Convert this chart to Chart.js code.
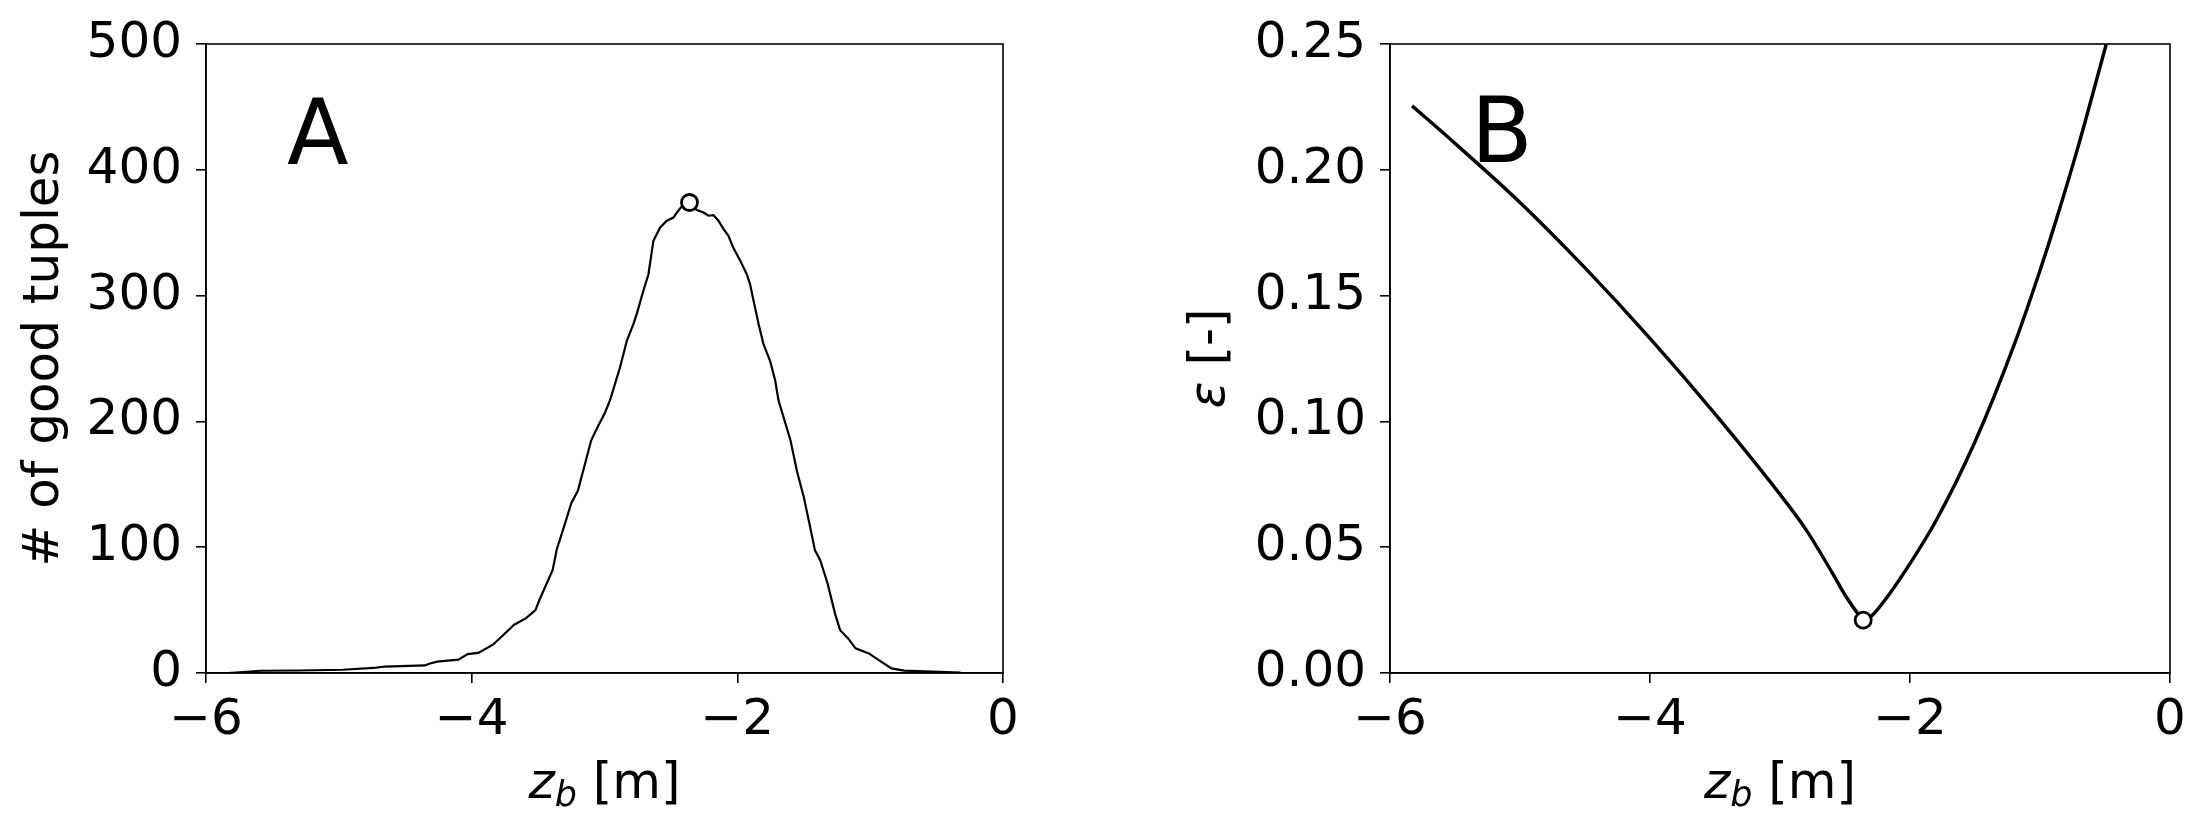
<!DOCTYPE html>
<html><head><meta charset="utf-8">
<script src="https://cdn.jsdelivr.net/npm/chart.js@4.4.0/dist/chart.umd.min.js"></script>
<style>
html,body{margin:0;padding:0;background:#fff;}
#wrap{position:relative;width:2208px;height:838px;background:#fff;}
.c{position:absolute;top:0;width:1104px;height:838px;}
</style></head><body>
<div id="wrap">
<div class="c" style="left:0"><canvas id="ca" width="1104" height="838"></canvas></div>
<div class="c" style="left:1104px"><canvas id="cb" width="1104" height="838"></canvas></div>
</div>
<script>
// ---- Data ----
const zA = [-5.83,-5.59,-5.30,-4.97,-4.74,-4.66,-4.35,-4.32,-4.26,-4.10,-4.03,-3.95,-3.84,-3.76,-3.68,-3.59,-3.52,-3.49,-3.39,-3.36,-3.30,-3.25,-3.20,-3.15,-3.10,-3.05,-3.00,-2.958,-2.883,-2.832,-2.782,-2.757,-2.707,-2.669,-2.632,-2.582,-2.531,-2.481,-2.456,-2.418,-2.373,-2.305,-2.255,-2.218,-2.18,-2.142,-2.105,-2.067,-2.03,-1.979,-1.929,-1.904,-1.878,-1.84,-1.804,-1.753,-1.715,-1.69,-1.60,-1.55,-1.50,-1.45,-1.416,-1.376,-1.32,-1.264,-1.226,-1.166,-1.11,-1.01,-0.935,-0.84,-0.744,-0.32];
const countA = [0,1.8,2,2.6,4,5,6,7.4,9,10.6,15,16,22.5,30.4,38.4,43.6,50,58,82,98,118,135,145,165,185,196,206,217,243,264,277.5,285.5,304,317,343.6,354,359.5,362,366,371,374,368,366,363.5,364,359.5,353,347.6,338,328,317,309,296,277.5,261.7,248,232.5,216.7,185,160,140,115,97.6,89.7,71,47,34,27.5,19.6,15.6,10.3,3.7,1.9,0.3];
const zB = [-5.83,-5.5,-5.0,-4.5,-4.0,-3.5,-3.0,-2.8,-2.6,-2.5,-2.4,-2.36,-2.3,-2.2,-2.0,-1.8,-1.5,-1.2,-1.0,-0.877,-0.7,-0.49];
const epsB = [0.2254,0.2105,0.187,0.161,0.133,0.103,0.071,0.057,0.040,0.031,0.0235,0.021,0.0225,0.0285,0.0435,0.0605,0.0919,0.1303,0.160,0.1798,0.2104,0.25];
const bestZ = -2.36;
const bestCount = 374;
const bestEps = 0.021;
const xTicks = [-6,-4,-2,0];
const yTicksA = [0,100,200,300,400,500];
const yTicksB = [0,0.05,0.10,0.15,0.20,0.25];

const FONT = "'DejaVu Sans', sans-serif";
const fmtX = v => v < 0 ? '\u2212' + Math.abs(v) : String(v);

function pts(xs, ys){ return xs.map((x,i)=>({x:x, y:ys[i]})); }

function frameAndTitles(opts){
  return {
    id:'frame'+opts.id,
    afterDraw(chart){
      const ctx = chart.ctx, a = chart.chartArea;
      ctx.save();
      ctx.strokeStyle = '#000'; ctx.lineWidth = 1.6;
      ctx.strokeRect(a.left, a.top, a.right - a.left, a.bottom - a.top);
      // panel letter
      ctx.fillStyle = '#000';
      ctx.font = '90px ' + FONT;
      ctx.textBaseline = 'alphabetic'; ctx.textAlign = 'left';
      ctx.fillText(opts.letter, opts.letterX, opts.letterY);
      // x title: z_b [m]
      const cx = (a.left + a.right) / 2, by = 798;
      const f1 = 'italic 50px ' + FONT, f2 = 'italic 35px ' + FONT, f3 = '50px ' + FONT;
      ctx.font = f1; const w1 = ctx.measureText('z').width;
      ctx.font = f2; const w2 = ctx.measureText('b').width;
      ctx.font = f3; const w3 = ctx.measureText(' [m]').width;
      let x0 = cx - (w1 + w2 + w3) / 2;
      ctx.font = f1; ctx.fillText('z', x0, by); x0 += w1;
      ctx.font = f2; ctx.fillText('b', x0, by + 8); x0 += w2;
      ctx.font = f3; ctx.fillText(' [m]', x0, by);
      // y title
      const cy = (a.top + a.bottom) / 2;
      ctx.translate(opts.yTitleX, cy);
      ctx.rotate(-Math.PI / 2);
      ctx.textBaseline = 'middle';
      if (opts.yItalic) {
        ctx.font = 'italic 50px ' + FONT; const wa = ctx.measureText(opts.yItalic).width;
        ctx.font = f3; const wb = ctx.measureText(opts.yRest).width;
        let xx = -(wa + wb) / 2;
        ctx.font = 'italic 50px ' + FONT; ctx.fillText(opts.yItalic, xx, 0); xx += wa;
        ctx.font = f3; ctx.fillText(opts.yRest, xx, 0);
      } else {
        ctx.font = f3; ctx.textAlign = 'center';
        ctx.fillText(opts.yRest, 0, 0);
      }
      ctx.restore();
    }
  };
}

function scales(yTicks, yFmt, yMax, yWidth){
  const grid = {display:true, drawOnChartArea:false, drawTicks:true, tickLength:10, color:'#000', lineWidth:1.6};
  return {
    x: {type:'linear', min:-6, max:0,
        afterBuildTicks: s => { s.ticks = xTicks.map(v=>({value:v})); },
        afterFit: s => { s.height = 110; },
        grid: grid, border:{display:true, color:'#000', width:1.6},
        ticks:{color:'#000', font:{family:FONT, size:50}, padding:8, maxRotation:0, autoSkip:false, callback: v => fmtX(v)}},
    y: {type:'linear', min:0, max:yMax,
        afterBuildTicks: s => { s.ticks = yTicks.map(v=>({value:v})); },
        afterFit: s => { s.width = yWidth; },
        grid: grid, border:{display:true, color:'#000', width:1.6},
        ticks:{color:'#000', font:{family:FONT, size:50}, padding:14, autoSkip:false, callback: yFmt}}
  };
}

const common = {responsive:false, animation:false, devicePixelRatio:1,
  plugins:{legend:{display:false}, tooltip:{enabled:false}}};

new Chart(document.getElementById('ca'), {
  type:'scatter',
  data:{datasets:[
    {data:[{x:bestZ, y:bestCount}], pointRadius:8, pointBorderWidth:2.8, pointBackgroundColor:'#fff', pointBorderColor:'#000', showLine:false},
    {data:pts(zA,countA), showLine:true, borderColor:'#000', borderWidth:2.2, pointRadius:0, tension:0, fill:false}
  ]},
  options:Object.assign({}, common, {
    layout:{padding:{left:0, right:101, top:43, bottom:55}},
    scales: scales(yTicksA, v => String(v), 500, 206)
  }),
  plugins:[frameAndTitles({id:'A', letter:'A', letterX:287, letterY:164, yTitleX:45, yRest:'# of good tuples'})]
});

new Chart(document.getElementById('cb'), {
  type:'scatter',
  data:{datasets:[
    {data:[{x:bestZ, y:bestEps}], pointRadius:8, pointBorderWidth:2.8, pointBackgroundColor:'#fff', pointBorderColor:'#000', showLine:false},
    {data:pts(zB,epsB), showLine:true, borderColor:'#000', borderWidth:3.4, pointRadius:0, cubicInterpolationMode:'monotone', fill:false}
  ]},
  options:Object.assign({}, common, {
    layout:{padding:{left:0, right:38, top:43, bottom:55}},
    scales: scales(yTicksB, v => Number(v).toFixed(2), 0.25, 286)
  }),
  plugins:[frameAndTitles({id:'B', letter:'B', letterX:1471-1104, letterY:162, yTitleX:1211-1104, yItalic:'\u03b5', yRest:' [-]'})]
});
</script>
</body></html>
